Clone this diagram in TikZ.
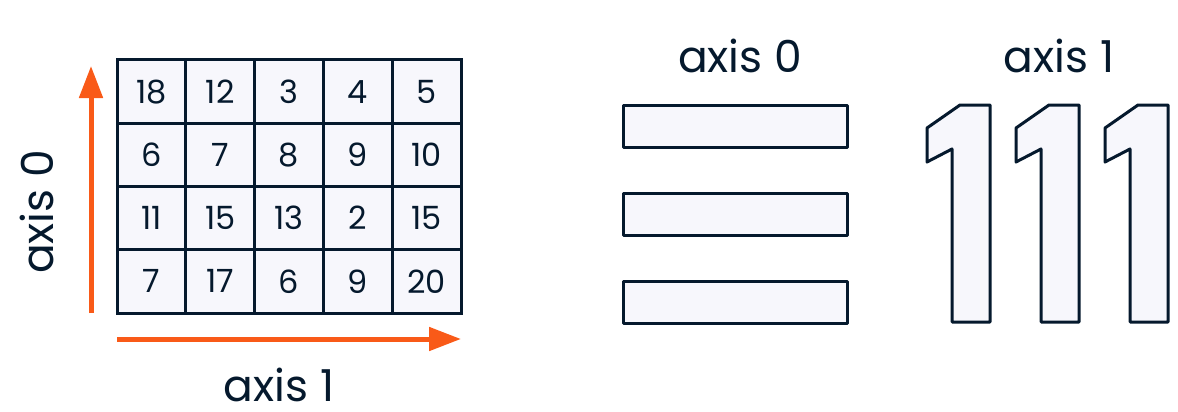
\documentclass[tikz,border=0pt]{standalone}
\usepackage{fontspec}
\setmainfont{Poppins}
\usepackage{xcolor}
\usetikzlibrary{positioning,calc,arrows.meta}
\definecolor{navy}{HTML}{05192D}
\definecolor{paper}{HTML}{F7F7FC}
\definecolor{flame}{HTML}{F95A18}
\tikzset{
  cell/.style={draw=navy, fill=paper, line width=3pt, minimum width=68.8pt,
    minimum height=63.25pt, inner sep=0pt, text=navy, font=\fontsize{32}{36}\selectfont},
  bar/.style={draw=navy, fill=paper, line width=3pt, line join=round},
  axisarrow/.style={draw=flame, line width=5pt, -{Triangle[length=32pt,width=23pt]}},
  axislabel/.style={text=navy, inner sep=0pt, text depth=0pt, anchor=base, font=\fontsize{44}{50}\selectfont}
}
\begin{document}
\begin{tikzpicture}[x=1pt,y=-1pt]
    \useasboundingbox (0,0) rectangle (1178,412);

    % The 4x5 array
    \foreach \row [count=\r from 0] in {{18,12,3,4,5},{6,7,8,9,10},{11,15,13,2,15},{7,17,6,9,20}}
        \foreach \val [count=\c from 0] in \row
            \node[cell] (c-\r-\c) at ({117+68.8*(\c+0.5)}, {60+63.25*(\r+0.5)}) {\val};

    % Axis arrows
    \coordinate (up-start) at (91,313);
    \coordinate (up-end) at (91,66);
    \coordinate (right-start) at (117,339);
    \coordinate (right-end) at (461,339);
    \draw[axisarrow] (up-start) -- (up-end);
    \draw[axisarrow] (right-start) -- (right-end);
    \node[axislabel, rotate=90] (lbl-axis0) at (53,212) {axis 0};
    \node[axislabel] (lbl-axis1) at (279,401) {axis 1};

    % Result along axis 0
    \node[axislabel] (top-axis0) at (740,73) {axis 0};
    \foreach \y in {105,193,281}
        \draw[bar] (623,\y) rectangle (847,\y+42);

    % Result along axis 1
    \node[axislabel] (top-axis1) at (1059,73) {axis 1};
    \foreach \dx in {0,89,178}
        \draw[bar, shift={(\dx,0)}] (960,105) -- (990,105) -- (990,322) -- (952,322)
            -- (952,149) -- (927,162) -- (927,128) -- cycle;
\end{tikzpicture}
\end{document}
